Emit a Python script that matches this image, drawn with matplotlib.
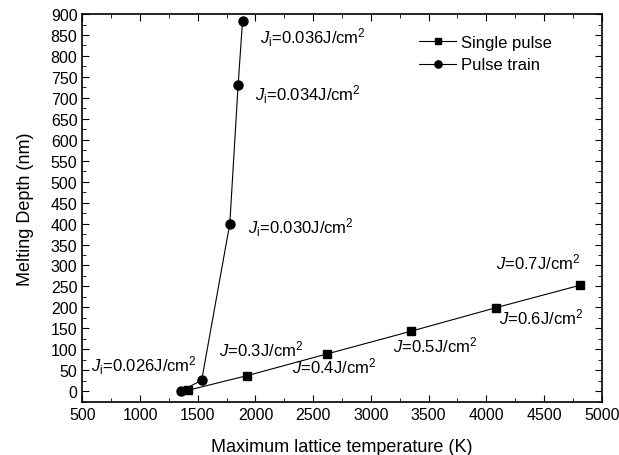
import numpy as np
import matplotlib
matplotlib.use("Agg")
import matplotlib.pyplot as plt
from matplotlib.ticker import MultipleLocator

plt.rcParams['font.family'] = ['Liberation Sans', 'DejaVu Sans']
plt.rcParams['mathtext.fontset'] = 'custom'
plt.rcParams['mathtext.rm'] = 'Liberation Sans'
plt.rcParams['mathtext.it'] = 'Liberation Sans:italic'

# single pulse data
single_T = [1413, 1927, 2622, 3347, 4081, 4815]
single_depth = [2, 37, 89, 143, 199, 253]
single_labels = ['', r'$J$=0.3J/cm$^2$', r'$J$=0.4J/cm$^2$', r'$J$=0.5J/cm$^2$',
                 r'$J$=0.6J/cm$^2$', r'$J$=0.7J/cm$^2$']

# pulse train data
train_T = [1352, 1534, 1778, 1850, 1888]
train_depth = [0, 26, 400, 731, 883]
train_labels = ['', r'$J_\mathregular{i}$=0.026J/cm$^2$', r'$J_\mathregular{i}$=0.030J/cm$^2$',
                r'$J_\mathregular{i}$=0.034J/cm$^2$', r'$J_\mathregular{i}$=0.036J/cm$^2$']

fig, ax = plt.subplots(figsize=(6.19, 4.56), dpi=100)
fig.subplots_adjust(left=0.133, right=0.972, top=0.967, bottom=0.117)

ax.plot(single_T, single_depth, '-s', color='black', lw=0.8, ms=5.5, label='Single pulse')
ax.plot(train_T, train_depth, '-o', color='black', lw=0.8, ms=6.5, label='Pulse train')

# label positions (data coords)
single_pos = [None, (1683, 102), (2313, 62), (3194, 111), (4109, 178), (4083, 309)]
train_pos = [None, (578, 62), (1933, 392), (1994, 709), (2037, 847)]
for lab, pos in zip(single_labels, single_pos):
    if pos:
        ax.text(pos[0], pos[1], lab, fontsize=12, va='center', ha='left')
for lab, pos in zip(train_labels, train_pos):
    if pos:
        ax.text(pos[0], pos[1], lab, fontsize=12, va='center', ha='left')

ax.set_xlim(500, 5000)
ax.set_ylim(-25, 900)
ax.xaxis.set_major_locator(MultipleLocator(500))
ax.xaxis.set_minor_locator(MultipleLocator(250))
ax.yaxis.set_major_locator(MultipleLocator(50))
ax.yaxis.set_minor_locator(MultipleLocator(25))
ax.tick_params(which='both', direction='in', top=True, right=True, labelsize=11.5)
ax.tick_params(which='major', length=5)
ax.tick_params(which='minor', length=3)
for s in ax.spines.values():
    s.set_linewidth(1.2)

ax.set_xlabel('Maximum lattice temperature (K)', fontsize=13, labelpad=12)
ax.set_ylabel('Melting Depth (nm)', fontsize=13, labelpad=12)

ax.legend(loc='upper left', bbox_to_anchor=(0.62, 0.985), frameon=False, fontsize=12,
          handlelength=2.2, handletextpad=0.3, labelspacing=0.45, markerscale=0.8)

fig.savefig('out.png', dpi=100)
